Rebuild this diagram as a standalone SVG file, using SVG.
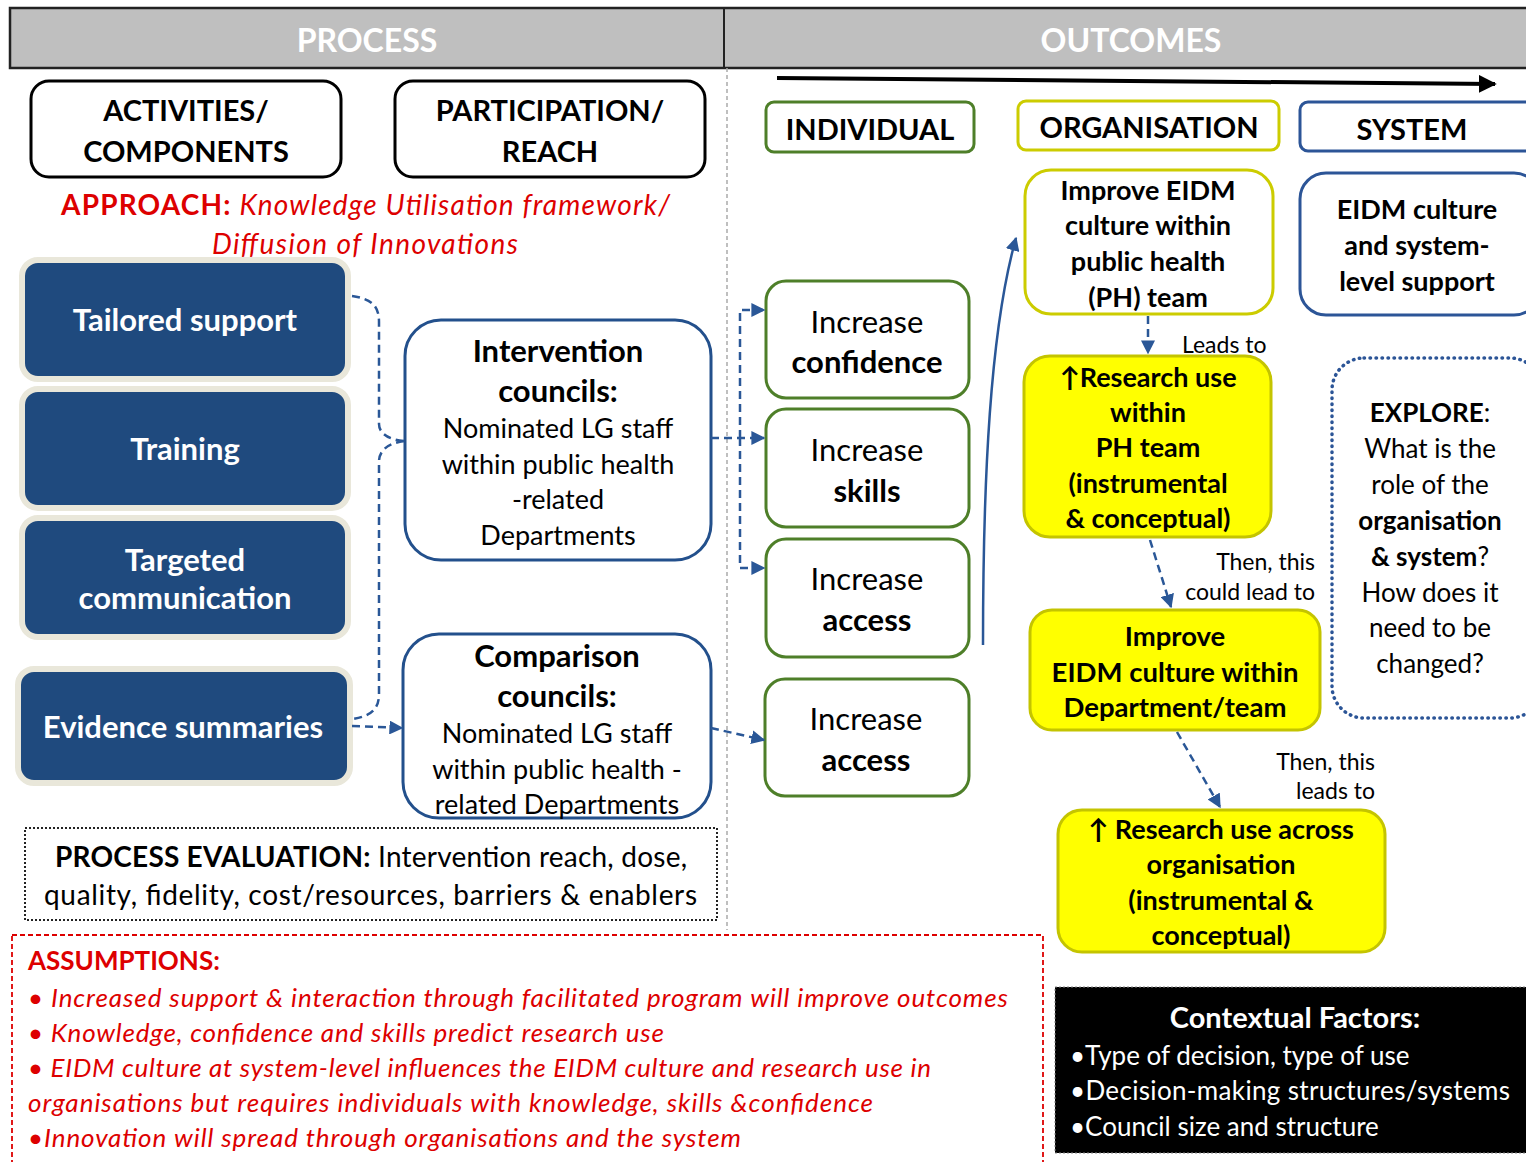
<svg xmlns="http://www.w3.org/2000/svg" width="1526" height="1162" viewBox="0 0 1526 1162">
<defs>
<style>
text{font-family:Lato,"Open Sans","Liberation Sans",sans-serif;dominant-baseline:central;text-anchor:middle;fill:#000}
.b{font-weight:bold}
.hdr{font-size:32px;font-weight:bold;fill:#fff}
.cat{font-size:29px;font-weight:bold}
.blue{fill:#1f4a7e;stroke:#e9e7da;stroke-width:6}
.bt{fill:#fff;font-weight:bold;font-size:31px}
.council{fill:#fff;stroke:#23508c;stroke-width:3}
.green{fill:#fff;stroke:#4e7f29;stroke-width:3}
.yel{fill:#ffff00;stroke:#c4c400;stroke-width:3}
.yelw{fill:#fff;stroke:#cccc00;stroke-width:3}
.sys{fill:#fff;stroke:#2c5597;stroke-width:3}
.dash{fill:none;stroke:#2a5797;stroke-width:2.5;stroke-dasharray:8,5}
.red{fill:#dd0000}
.it{font-style:italic}
.st{text-anchor:start}
.w{fill:#fff}
</style>
<marker id="ah" viewBox="0 0 10 10" refX="9" refY="5" markerWidth="14" markerHeight="14" markerUnits="userSpaceOnUse" orient="auto">
<path d="M0,0 L10,5 L0,10 Z" fill="#2a5797"/>
</marker>
<marker id="ak" viewBox="0 0 10 10" refX="9" refY="5" markerWidth="18" markerHeight="18" markerUnits="userSpaceOnUse" orient="auto">
<path d="M0,0 L10,5 L0,10 Z" fill="#000"/>
</marker>
</defs>
<rect width="1526" height="1162" fill="#fff"/>

<g id="header">
<rect x="10" y="8" width="1520" height="60" fill="#bfbfbf" stroke="#222" stroke-width="2.5"/>
<line x1="724" y1="8" x2="724" y2="68" stroke="#222" stroke-width="2"/>
<text class="hdr" x="367" y="39">PROCESS</text>
<text class="hdr" x="1131" y="39">OUTCOMES</text>
</g>
<line x1="727" y1="68" x2="727" y2="930" stroke="#aaa" stroke-width="1.5" stroke-dasharray="4,3"/>

<g id="activities">
<rect x="31" y="81" width="310" height="96" rx="18" fill="#fff" stroke="#000" stroke-width="3"/>
<text class="cat" x="186" y="109">ACTIVITIES/</text>
<text class="cat" x="186" y="150">COMPONENTS</text>
</g>
<g id="participation">
<rect x="395" y="81" width="310" height="96" rx="18" fill="#fff" stroke="#000" stroke-width="3"/>
<text class="cat" x="550" y="109">PARTICIPATION/</text>
<text class="cat" x="550" y="150">REACH</text>
</g>
<g id="approach">
<text x="61" y="204" font-size="28" class="st" textLength="609" lengthAdjust="spacing"><tspan class="red b">APPROACH:</tspan><tspan class="red it"> Knowledge Utilisation framework/</tspan></text>
<text x="212" y="243" font-size="28" class="red it st" textLength="306" lengthAdjust="spacing">Diffusion of Innovations</text>
</g>

<g id="tailored"><rect class="blue" x="22" y="260" width="326" height="119" rx="16"/><text class="bt" x="185" y="319">Tailored support</text></g>
<g id="training"><rect class="blue" x="22" y="389" width="326" height="119" rx="16"/><text class="bt" x="185" y="448">Training</text></g>
<g id="targeted"><rect class="blue" x="22" y="518" width="326" height="119" rx="16"/><text class="bt" x="185" y="559">Targeted</text><text class="bt" x="185" y="597">communication</text></g>
<g id="evidence"><rect class="blue" x="18" y="669" width="332" height="114" rx="16"/><text class="bt" x="183" y="726">Evidence summaries</text></g>

<g id="intervention">
<rect class="council" x="405" y="320" width="306" height="240" rx="36"/>
<text class="b" font-size="31" x="558" y="350">Intervention</text>
<text class="b" font-size="31" x="558" y="390">councils:</text>
<text font-size="27" x="558" y="427">Nominated LG staff</text>
<text font-size="27" x="558" y="463">within public health</text>
<text font-size="27" x="558" y="498">-related</text>
<text font-size="27" x="558" y="534">Departments</text>
</g>
<g id="comparison">
<rect class="council" x="403" y="634" width="308" height="184" rx="36"/>
<text class="b" font-size="31" x="557" y="655">Comparison</text>
<text class="b" font-size="31" x="557" y="695">councils:</text>
<text font-size="27" x="557" y="732">Nominated LG staff</text>
<text font-size="27" x="557" y="768">within public health -</text>
<text font-size="27" x="557" y="803">related Departments</text>
</g>

<g id="individual-hdr"><rect x="766" y="102" width="208" height="50" rx="8" fill="#fff" stroke="#4e7f29" stroke-width="3"/><text class="cat" x="870" y="128">INDIVIDUAL</text></g>
<g id="organisation-hdr"><rect x="1018" y="101" width="261" height="49" rx="8" fill="#fff" stroke="#cccc00" stroke-width="3"/><text class="cat" x="1149" y="126">ORGANISATION</text></g>
<g id="system-hdr"><rect x="1300" y="102" width="240" height="49" rx="8" fill="#fff" stroke="#2c5597" stroke-width="3"/><text class="cat" x="1412" y="128">SYSTEM</text></g>

<g id="confidence"><rect class="green" x="766" y="281" width="203" height="117" rx="20"/><text font-size="31" x="867" y="321">Increase</text><text class="b" font-size="31" x="867" y="361">confidence</text></g>
<g id="skills"><rect class="green" x="766" y="409" width="203" height="118" rx="20"/><text font-size="31" x="867" y="449">Increase</text><text class="b" font-size="31" x="867" y="490">skills</text></g>
<g id="access1"><rect class="green" x="766" y="539" width="203" height="118" rx="20"/><text font-size="31" x="867" y="578">Increase</text><text class="b" font-size="31" x="867" y="619">access</text></g>
<g id="access2"><rect class="green" x="765" y="679" width="204" height="117" rx="20"/><text font-size="31" x="866" y="718">Increase</text><text class="b" font-size="31" x="866" y="759">access</text></g>

<g id="improve-ph"><rect class="yelw" x="1025" y="170" width="248" height="144" rx="26"/>
<text class="b" font-size="27" x="1148" y="189">Improve EIDM</text>
<text class="b" font-size="27" x="1148" y="224">culture within</text>
<text class="b" font-size="27" x="1148" y="260">public health</text>
<text class="b" font-size="27" x="1148" y="296">(PH) team</text></g>

<g id="system-support"><rect class="sys" x="1300" y="173" width="240" height="142" rx="26"/>
<text class="b" font-size="27" x="1417" y="208">EIDM culture</text>
<text class="b" font-size="27" x="1417" y="244">and system-</text>
<text class="b" font-size="27" x="1417" y="280">level support</text></g>

<g id="research-ph"><rect class="yel" x="1024" y="356" width="247" height="181" rx="26"/>
<text class="b" font-size="27" x="1148" y="376">↑Research use</text>
<text class="b" font-size="27" x="1148" y="411">within</text>
<text class="b" font-size="27" x="1148" y="446">PH team</text>
<text class="b" font-size="27" x="1148" y="482">(instrumental</text>
<text class="b" font-size="27" x="1148" y="517">&amp; conceptual)</text></g>

<g id="improve-dept"><rect class="yel" x="1030" y="610" width="290" height="120" rx="22"/>
<text class="b" font-size="27.5" x="1175" y="635">Improve</text>
<text class="b" font-size="27.5" x="1175" y="671">EIDM culture within</text>
<text class="b" font-size="27.5" x="1175" y="706">Department/team</text></g>

<g id="research-org"><rect class="yel" x="1058" y="810" width="327" height="142" rx="24"/>
<text class="b" font-size="27" x="1221" y="828">↑ Research use across</text>
<text class="b" font-size="27" x="1221" y="863">organisation</text>
<text class="b" font-size="27" x="1221" y="899">(instrumental &amp;</text>
<text class="b" font-size="27" x="1221" y="934">conceptual)</text></g>

<g id="explore"><rect x="1332" y="358" width="210" height="360" rx="32" fill="#fff" stroke="#2c5597" stroke-width="3.5" stroke-linecap="round" stroke-dasharray="0.5,5.5"/>
<text font-size="26" x="1430" y="412"><tspan class="b">EXPLORE</tspan>:</text>
<text font-size="26" x="1430" y="448">What is the</text>
<text font-size="26" x="1430" y="484">role of the</text>
<text class="b" font-size="26" x="1430" y="520">organisation</text>
<text font-size="26" x="1430" y="556"><tspan class="b">&amp; system</tspan>?</text>
<text font-size="26" x="1430" y="592">How does it</text>
<text font-size="26" x="1430" y="627">need to be</text>
<text font-size="26" x="1430" y="663">changed?</text></g>

<g id="process-eval"><rect x="25" y="828" width="692" height="92" fill="#fff" stroke="#222" stroke-width="2" stroke-dasharray="2,2"/>
<text font-size="28" x="55" y="856" class="st" textLength="632" lengthAdjust="spacing"><tspan class="b">PROCESS EVALUATION:</tspan> Intervention reach, dose,</text>
<text font-size="28" x="44" y="894" class="st" textLength="653" lengthAdjust="spacing">quality, fidelity, cost/resources, barriers &amp; enablers</text></g>

<g id="assumptions"><rect x="12" y="935" width="1031" height="240" fill="#fff" stroke="#dd0000" stroke-width="1.8" stroke-dasharray="5,3"/>
<text class="red b st" font-size="26" x="28" y="960">ASSUMPTIONS:</text>
<text class="red it st" font-size="26" x="28" y="997" textLength="980" lengthAdjust="spacing">• Increased support &amp; interaction through facilitated program will improve outcomes</text>
<text class="red it st" font-size="26" x="28" y="1032" textLength="636" lengthAdjust="spacing">• Knowledge, confidence and skills predict research use</text>
<text class="red it st" font-size="26" x="28" y="1067" textLength="903" lengthAdjust="spacing">• EIDM culture at system-level influences the EIDM culture and research use in</text>
<text class="red it st" font-size="26" x="28" y="1102" textLength="845" lengthAdjust="spacing">organisations but requires individuals with knowledge, skills &amp;confidence</text>
<text class="red it st" font-size="26" x="28" y="1137" textLength="713" lengthAdjust="spacing">•Innovation will spread through organisations and the system</text>
</g>

<g id="contextual"><rect x="1055" y="987" width="480" height="166" fill="#000" stroke="#888" stroke-width="1" stroke-dasharray="2,2"/>
<text class="b w" font-size="29" x="1295" y="1016">Contextual Factors:</text>
<text class="w st" font-size="26" x="1070" y="1055">•Type of decision, type of use</text>
<text class="w st" font-size="26" x="1070" y="1090" textLength="440" lengthAdjust="spacing">•Decision-making structures/systems</text>
<text class="w st" font-size="26" x="1070" y="1126">•Council size and structure</text></g>

<g id="connectors">
<path d="M777,78 L1495,84" stroke="#000" stroke-width="4" fill="none" marker-end="url(#ak)"/>
<path class="dash" d="M352,296 C372,299 379,306 379,322 L379,424 C379,434 390,440 404,441"/>
<path class="dash" d="M404,441 C390,443 379,449 379,462 L379,694 C379,710 370,716 353,719"/>
<path class="dash" d="M352,726 L402,728" marker-end="url(#ah)"/>
<path class="dash" d="M711,438 L764,438" marker-end="url(#ah)"/>
<path class="dash" d="M740,438 L740,310 L764,310" marker-end="url(#ah)"/>
<path class="dash" d="M740,438 L740,568 L764,568" marker-end="url(#ah)"/>
<path class="dash" d="M711,728 L764,740" marker-end="url(#ah)"/>
<path d="M983,645 C983,480 990,330 1016,238" fill="none" stroke="#2a5797" stroke-width="2.5" marker-end="url(#ah)"/>
<path class="dash" d="M1148,316 L1148,353" marker-end="url(#ah)"/>
<path class="dash" d="M1150,540 L1171,607" marker-end="url(#ah)"/>
<path class="dash" d="M1177,732 L1220,807" marker-end="url(#ah)"/>
<text font-size="23" x="1182" y="344" class="st">Leads to</text>
<text font-size="23" x="1315" y="561" style="text-anchor:end">Then, this</text>
<text font-size="23" x="1315" y="591" style="text-anchor:end">could lead to</text>
<text font-size="23" x="1375" y="761" style="text-anchor:end">Then, this</text>
<text font-size="23" x="1375" y="790" style="text-anchor:end">leads to</text>
</g>
</svg>
